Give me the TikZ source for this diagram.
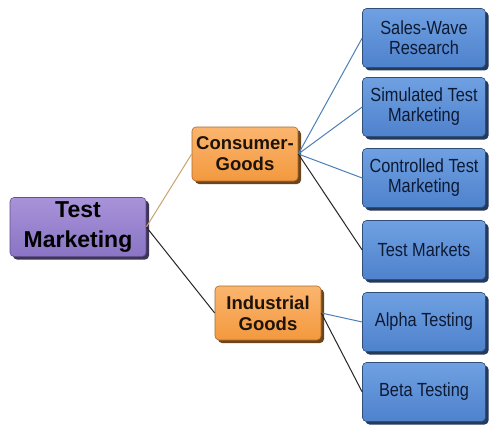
\documentclass[tikz,border=0pt]{standalone}
\usepackage{fontspec}
\setmainfont{Liberation Sans}
\newfontfamily\narrowf[FakeStretch=0.86]{Liberation Sans}
\begin{document}
\begin{tikzpicture}[x=1pt,y=-1pt,
  box/.style={rounded corners=4pt, align=center, inner sep=0pt,
    preaction={fill=#1!45!black, transform canvas={shift={(3pt,-3pt)}}}},
  purplebox/.style={box=purpleB, top color=purpleA, bottom color=purpleB, draw=purpleB!70!black, line width=0.6pt,
    minimum width=136pt, minimum height=59pt, font=\fontsize{23}{30}\selectfont\bfseries, text=black},
  orangebox/.style={box=orangeB, top color=orangeA, bottom color=orangeB, draw=orangeB!70!black, line width=0.6pt,
    minimum width=106pt, minimum height=54pt, font=\fontsize{18.5}{21}\selectfont\bfseries, text=black!85!brown},
  bluebox/.style={box=blueB, top color=blueA, bottom color=blueB, draw=blueB!60!black, line width=0.6pt,
    minimum width=123pt, minimum height=59pt, font=\narrowf\fontsize{19}{20}\selectfont, text=navyT},
  tanline/.style={draw=tanC, line width=1pt},
  blueline/.style={draw=lineB, line width=1pt},
  darkline/.style={draw=black!85, line width=1pt}
]
\definecolor{purpleA}{HTML}{A893DA}
\definecolor{purpleB}{HTML}{8A74C4}
\definecolor{orangeA}{HTML}{FBB56E}
\definecolor{orangeB}{HTML}{F3993F}
\definecolor{blueA}{HTML}{6FA0E2}
\definecolor{blueB}{HTML}{4E82CC}
\definecolor{navyT}{HTML}{0E1A33}
\definecolor{tanC}{HTML}{C9A46E}
\definecolor{lineB}{HTML}{4F7FB8}
\useasboundingbox (0,0) rectangle (500,425);
\fill[white] (0,0) rectangle (500,425);

\node[purplebox] (tm) at (78,227) {Test\\Marketing};
\node[orangebox] (cg) at (245,154) {Consumer-\\Goods};
\node[orangebox] (ig) at (268,313) {Industrial\\Goods};

\node[bluebox] (b1) at (424,38) {Sales-Wave\\Research};
\node[bluebox] (b2) at (424,107) {Simulated Test\\Marketing};
\node[bluebox] (b3) at (424,178) {Controlled Test\\Marketing};
\node[bluebox] (b4) at (424,250) {Test Markets};
\node[bluebox] (b5) at (424,322) {Alpha Testing};
\node[bluebox] (b6) at (424,392) {Beta Testing};

\draw[tanline] (tm.east) -- (cg.west);
\draw[darkline] (tm.east) -- (ig.west);
\draw[blueline] (cg.east) -- (b1.west);
\draw[blueline] (cg.east) -- (b2.west);
\draw[blueline] (cg.east) -- (b3.west);
\draw[darkline] (cg.east) -- (b4.west);
\draw[blueline] (ig.east) -- (b5.west);
\draw[darkline] (ig.east) -- (b6.west);
\end{tikzpicture}
\end{document}
